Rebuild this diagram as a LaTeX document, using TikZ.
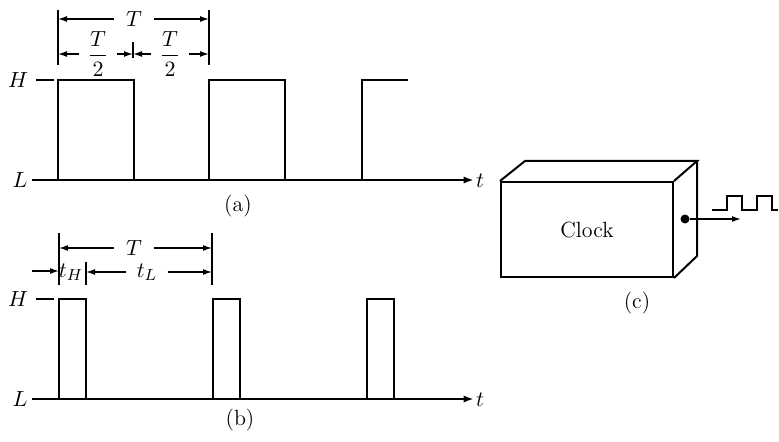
\documentclass[tikz,border=0pt]{standalone}
\usepackage{amsmath}
\usepackage{tikz}
\usetikzlibrary{positioning,arrows.meta}

\begin{document}
\begin{tikzpicture}[
    x=0.5pt, y=-0.5pt,
    font=\fontsize{11}{13}\selectfont,
    wave/.style={line width=1.3pt, line join=miter},
    axis/.style={line width=1.2pt, -{Latex[length=5pt,width=3.6pt]}},
    dim/.style={line width=0.7pt, -{Latex[length=4.5pt,width=3pt]}},
    guide/.style={line width=0.7pt},
    lvl/.style={inner sep=1pt},
    dlabel/.style={inner sep=5pt},
    boxline/.style={line width=1pt, line join=miter},
  ]
    \useasboundingbox (0,0) rectangle (779,442);

    %── (a): square wave ───────────────────────────────────────────────
    \node[lvl] (Ha) at (18,80)  {$H$};
    \node[lvl] (La) at (20,180) {$L$};
    \node[lvl] (ta) at (480,181) {$t$};
    \draw[guide] ([xshift=3pt]Ha.east) -- ++(18,0);
    \draw[axis] ([xshift=1pt]La.east) -- (La.east -| ta.west);
    \foreach \x in {58,209}
      \draw[wave] (\x,180) -- (\x,80) -- ++(76,0) -- ++(0,100);
    \draw[wave] (362,180) -- (362,80) -- (408,80);

    \coordinate (ga0) at (58,10);
    \coordinate (ga1) at (133,42);
    \coordinate (ga2) at (209,10);
    \draw[guide] (ga0) -- ++(0,55);
    \draw[guide] (ga1) -- ++(0,16);
    \draw[guide] (ga2) -- ++(0,55);

    \node[dlabel, inner sep=6pt] (Ta) at (134,19) {$T$};
    \draw[dim] (Ta.west) -- (Ta.west -| ga0);
    \draw[dim] (Ta.east) -- (Ta.east -| ga2);

    \node[dlabel, inner sep=4pt] (half1) at (98,54)  {$\dfrac{T}{2}$};
    \node[dlabel, inner sep=4pt] (half2) at (170,54) {$\dfrac{T}{2}$};
    \draw[dim] (half1.west) -- (half1.west -| ga0);
    \draw[dim] (half1.east) -- (half1.east -| ga1);
    \draw[dim] (half2.west) -- (half2.west -| ga1);
    \draw[dim] (half2.east) -- (half2.east -| ga2);

    \node (capa) at (238,206) {(a)};

    %── (b): pulse train ───────────────────────────────────────────────
    \node[lvl] (Hb) at (18,299) {$H$};
    \node[lvl] (Lb) at (20,399) {$L$};
    \node[lvl] (tb) at (480,400) {$t$};
    \draw[guide] ([xshift=3pt]Hb.east) -- ++(18,0);
    \draw[axis] ([xshift=1pt]Lb.east) -- (Lb.east -| tb.west);
    \foreach \x in {59,213,367}
      \draw[wave] (\x,399) -- (\x,299) -- ++(27,0) -- ++(0,100);

    \coordinate (gb0) at (59,233);
    \coordinate (gb1) at (86,262);
    \coordinate (gb2) at (212,233);
    \draw[guide] (gb0) -- ++(0,52);
    \draw[guide] (gb1) -- ++(0,23);
    \draw[guide] (gb2) -- ++(0,52);

    \node[dlabel, inner sep=6pt] (Tb) at (134,248) {$T$};
    \draw[dim] (Tb.west) -- (Tb.west -| gb0);
    \draw[dim] (Tb.east) -- (Tb.east -| gb2);

    \node[inner sep=0pt] (tH) at (71,272) {$t_H$};
    \coordinate (tHin) at (32,271);
    \draw[dim] (tHin) -- (tHin -| gb0);
    \node[dlabel] (tL) at (147,272) {$t_L$};
    \draw[dim] (tL.west) -- (tL.west -| gb1);
    \draw[dim] (tL.east) -- (tL.east -| gb2);

    \node (capb) at (240,420) {(b)};

    %── (c): clock box ─────────────────────────────────────────────────
    \node[draw, boxline, minimum width=86pt, minimum height=47.5pt,
          inner sep=0pt] (clk) at (587,229.5) {Clock};
    \draw[boxline] (clk.north west) -- ++(25,-20) coordinate (bk1)
      -- ++(172,0) coordinate (bk2) -- (clk.north east);
    \draw[boxline] (bk2) -- ++(0,95) -- (clk.south east);

    \node[circle, fill, inner sep=0pt, minimum size=4.5pt] (port) at (685,219) {};
    \coordinate (portend) at (741,219);
    \draw[dim] (port) -- (portend);
    \draw[guide, line width=0.8pt] (712,210)
      \foreach \x in {727,757} { -- (\x,210) -- (\x,196) -- (\x+15,196) -- (\x+15,210) }
      -- (778,210);

    \node (capc) at (637,303) {(c)};
  \end{tikzpicture}
\end{document}
